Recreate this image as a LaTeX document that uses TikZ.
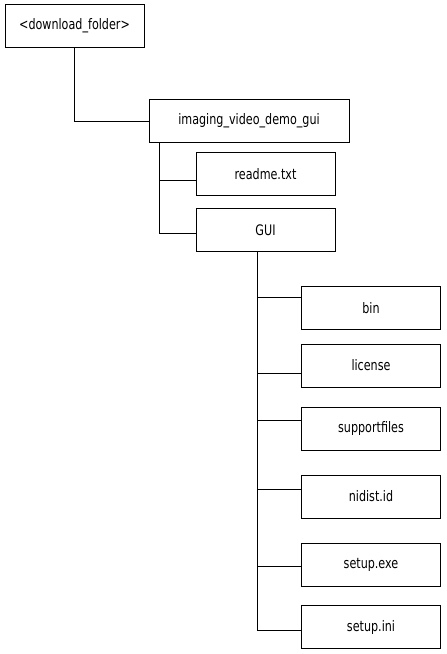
\documentclass[tikz,border=0pt]{standalone}
\usepackage{fontspec}
\setmainfont{DejaVu Sans}[FakeStretch=0.77]
\usetikzlibrary{positioning}
\tikzset{
  wire/.style={black,line width=1pt},
  folder/.style={draw=black,line width=1pt,minimum width=139pt,minimum height=43pt,
                 inner sep=0pt,align=center,font=\fontsize{14.5}{17}\selectfont},
  topfolder/.style={folder,minimum width=200pt},
}

\begin{document}
\begin{tikzpicture}[x=1pt,y=-1pt]
  \path[use as bounding box] (0,0) rectangle (447,654);

  \node[folder] (dl) at (74.5,25.5) {<download\_folder>};
  \node[topfolder] (img) at (249,121) {imaging\_video\_demo\_gui};
  \node[folder] (readme) at (265.5,174) {readme.txt};
  \node[folder] (gui) at (265.5,230) {GUI};

  \node[folder] (bin) at (371,308) {bin};
  \node[folder] (license) at (371,365.5) {license};
  \node[folder] (support) at (371,428.5) {supportfiles};
  \node[folder] (nidist) at (371,496.5) {nidist.id};
  \node[folder] (setupexe) at (371,564.5) {setup.exe};
  \node[folder] (setupini) at (371,627) {setup.ini};

  % tree connectors
  \draw[wire] (dl.south) |- (img.west);
  \coordinate (imgbus) at (159,142);
  \draw[wire] (imgbus) |- ([yshift=-6pt]readme.west);
  \draw[wire] (imgbus) |- ([yshift=-3pt]gui.west);
  \coordinate (guibus) at (257,251);
  \foreach \child/\dy in {bin/11,license/-7.5,support/8.5,nidist/7.5,setupexe/-1.5,setupini/-3}
    {\draw[wire] (guibus) |- ([yshift=\dy pt]\child.west);}
\end{tikzpicture}
\end{document}
